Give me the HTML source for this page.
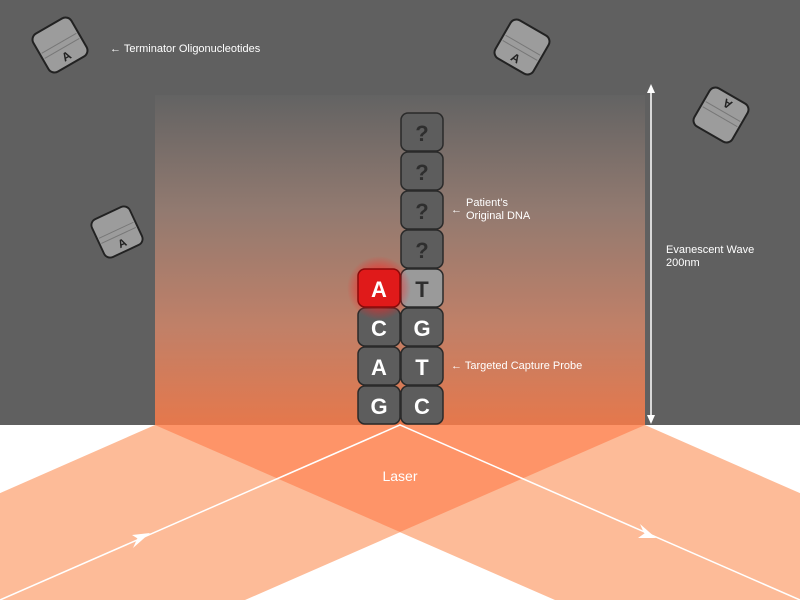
<!DOCTYPE html>
<html><head><meta charset="utf-8"><style>
html,body{margin:0;padding:0;}
body{width:800px;height:600px;overflow:hidden;background:#fff;}
text{font-family:"Liberation Sans",sans-serif;}
</style></head><body>
<svg width="800" height="600" viewBox="0 0 800 600" xmlns="http://www.w3.org/2000/svg">
<defs>
<linearGradient id="g" x1="0" y1="0" x2="0" y2="1">
<stop offset="0" stop-color="#636363"/>
<stop offset="0.35" stop-color="#927a70"/>
<stop offset="0.7" stop-color="#c08068"/>
<stop offset="1" stop-color="#e5784c"/>
</linearGradient>
<radialGradient id="glow" cx="0.5" cy="0.5" r="0.5">
<stop offset="0.4" stop-color="#ff2020" stop-opacity="0.8"/>
<stop offset="1" stop-color="#ff2020" stop-opacity="0"/>
</radialGradient>
<g id="cube">
<rect x="-22" y="-22" width="44" height="44" rx="7" fill="#9c9c9c" stroke="#222" stroke-width="2"/>
<line x1="-20" y1="-2" x2="20" y2="-2" stroke="#777" stroke-width="1"/>
<line x1="-20" y1="4" x2="20" y2="4" stroke="#777" stroke-width="1"/>
<text x="0" y="17" text-anchor="middle" font-size="12" font-weight="bold" fill="#222">A</text>
</g>
</defs>
<rect width="800" height="425" fill="#606060"/>
<rect x="155" y="95" width="490" height="330" fill="url(#g)"/>
<!-- beams -->
<polygon points="155,425 645,425 245,600 -243,600" fill="#fdbb98"/>
<polygon points="155,425 645,425 1043,600 555,600" fill="#fdbb98"/>
<polygon points="155,425 645,425 400,532" fill="#fe9468"/>
<polyline points="0,600 400,425 800,600" fill="none" stroke="#fff" stroke-width="1.5"/>
<polygon points="150,533 133,548 138,537" fill="#fff"/>
<polygon points="150,533 132,535 140,540" fill="#fff"/>
<polygon points="656,538 640,524 644,533" fill="#fff"/>
<polygon points="656,538 638,538 645,533" fill="#fff"/>
<text x="400" y="481" text-anchor="middle" font-size="14" fill="#fff">Laser</text>
<!-- evanescent arrow -->
<line x1="651" y1="90" x2="651" y2="420" stroke="#fff" stroke-width="1.5"/>
<polygon points="651,84 647,93 655,93" fill="#fff"/>
<polygon points="651,424 647,415 655,415" fill="#fff"/>
<text x="666" y="253" font-size="11" fill="#fff">Evanescent Wave</text>
<text x="666" y="266" font-size="11" fill="#fff">200nm</text>
<!-- cubes -->
<use href="#cube" transform="translate(60,45) rotate(-30)"/>
<use href="#cube" transform="translate(522,47) rotate(30)"/>
<use href="#cube" transform="translate(721,115) rotate(-150)"/>
<use href="#cube" transform="translate(117,232) rotate(-25) scale(0.95)"/>
<text x="110" y="52" font-size="11" fill="#fff">← Terminator Oligonucleotides</text>
<!-- blocks -->
<g font-weight="bold" font-size="22" text-anchor="middle">
<g fill="#5d5d5d" stroke="#2a2a2a" stroke-width="1.5">
<rect x="401" y="113" width="42" height="38" rx="7"/>
<rect x="401" y="152" width="42" height="38" rx="7"/>
<rect x="401" y="191" width="42" height="38" rx="7"/>
<rect x="401" y="230" width="42" height="38" rx="7"/>
<rect x="401" y="308" width="42" height="38" rx="7"/>
<rect x="401" y="347" width="42" height="38" rx="7"/>
<rect x="401" y="386" width="42" height="38" rx="7"/>
<rect x="358" y="308" width="42" height="38" rx="7"/>
<rect x="358" y="347" width="42" height="38" rx="7"/>
<rect x="358" y="386" width="42" height="38" rx="7"/>
</g>
<rect x="401" y="269" width="42" height="38" rx="7" fill="#9a9a9a" stroke="#2a2a2a" stroke-width="1.5"/>
<circle cx="379" cy="288" r="32" fill="url(#glow)"/>
<rect x="358" y="269" width="42" height="38" rx="7" fill="#e01a1a" stroke="#8a0a0a" stroke-width="1.5"/>
<g fill="#2e2e2e">
<text x="422" y="141">?</text><text x="422" y="180">?</text><text x="422" y="219">?</text><text x="422" y="258">?</text>
<text x="422" y="297">T</text>
</g>
<g fill="#fff">
<text x="379" y="297">A</text>
<text x="379" y="336">C</text><text x="422" y="336">G</text>
<text x="379" y="375">A</text><text x="422" y="375">T</text>
<text x="379" y="414">G</text><text x="422" y="414">C</text>
</g>
</g>
<text x="451" y="213" font-size="11" fill="#fff">←</text>
<text x="466" y="206" font-size="11" fill="#fff">Patient’s</text>
<text x="466" y="219" font-size="11" fill="#fff">Original DNA</text>
<text x="451" y="369" font-size="11" fill="#fff">← Targeted Capture Probe</text>
</svg>
</body></html>
